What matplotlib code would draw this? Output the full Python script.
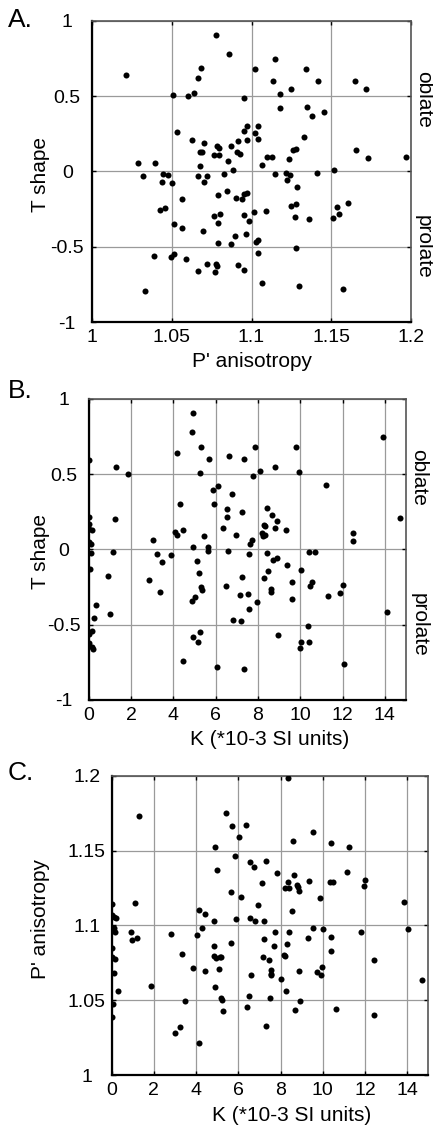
import matplotlib
matplotlib.use("Agg")
import matplotlib.pyplot as plt

plt.rcParams["font.family"] = ["Liberation Sans", "DejaVu Sans"]

# panel A: P' anisotropy vs T shape
a_p = [1.0212, 1.0777, 1.0859, 1.1148, 1.1022, 1.134, 1.0683, 1.0666, 1.1137, 1.142,
       1.165, 1.1717, 1.1248, 1.1181, 1.0639, 1.0601, 1.0505, 1.0955, 1.1181, 1.1347,
       1.138, 1.1458, 1.0972, 1.1043, 1.0953, 1.1020, 1.0534, 1.1043, 1.0970, 1.1330,
       1.0915, 1.0628, 1.0699, 1.0783, 1.0794, 1.0869, 1.1261, 1.1280, 1.1657, 1.0679,
       1.0689, 1.0911, 1.0928, 1.0762, 1.0794, 1.1097, 1.1131, 1.1236, 1.1734, 1.1971,
       1.0285, 1.0396, 1.0854, 1.0679, 1.1066, 1.0882, 1.1518, 1.032, 1.0442, 1.0473,
       1.0666, 1.0718, 1.0827, 1.1148, 1.1215, 1.1242, 1.1414, 1.1220, 1.0704, 1.0436,
       1.0503, 1.1286, 1.0844, 1.0974, 1.0951, 1.0790, 1.0942, 1.0905, 1.0561, 1.128,
       1.125, 1.1606, 1.1539, 1.0427, 1.0457, 1.1016, 1.1091, 1.0804, 1.0766, 1.0955,
       1.1552, 1.1273, 1.1359, 1.1512, 1.0982, 1.0790, 1.0511, 1.0561, 1.0696, 1.0968,
       1.0898, 1.1043, 1.1026, 1.0790, 1.0871, 1.128, 1.1043, 1.0390, 1.0511, 1.0496,
       1.0591, 1.0722, 1.0777, 1.0783, 1.0915, 1.0666, 1.0773, 1.0953, 1.1064, 1.1296,
       1.1577, 1.0329]
a_t = [0.637, 0.907, 0.777, 0.748, 0.677, 0.677, 0.684, 0.619, 0.597, 0.602,
       0.602, 0.544, 0.544, 0.513, 0.520, 0.502, 0.509, 0.485, 0.420, 0.427,
       0.369, 0.392, 0.303, 0.303, 0.268, 0.252, 0.263, 0.217, 0.210, 0.228,
       0.199, 0.206, 0.186, 0.170, 0.155, 0.166, 0.139, 0.146, 0.139, 0.128,
       0.128, 0.128, 0.115, 0.106, 0.106, 0.095, 0.095, 0.082, 0.088, 0.095,
       0.058, 0.058, 0.066, 0.038, 0.044, 0.011, 0.011, -0.029, -0.018, -0.022,
       -0.029, -0.033, -0.018, -0.015, -0.009, -0.022, -0.011, -0.060, -0.073, -0.069,
       -0.080, -0.106, -0.128, -0.142, -0.150, -0.157, -0.181, -0.179, -0.186, -0.215,
       -0.232, -0.212, -0.239, -0.257, -0.246, -0.272, -0.263, -0.285, -0.296, -0.292,
       -0.285, -0.303, -0.314, -0.308, -0.332, -0.345, -0.352, -0.374, -0.396, -0.416,
       -0.431, -0.456, -0.471, -0.473, -0.480, -0.509, -0.544, -0.562, -0.549, -0.571,
       -0.582, -0.617, -0.613, -0.631, -0.622, -0.659, -0.666, -0.655, -0.743, -0.759,
       -0.783, -0.794]

# panel B: K vs T shape
b_k = [4.95, 4.87, 13.91, 5.33, 7.87, 9.78, 4.18, 6.62, 7.33, 5.71,
       0.0, 1.29, 8.83, 8.09, 9.92, 5.25, 1.88, 7.79, 11.2, 6.12,
       5.87, 6.78, 4.31, 5.91, 6.55, 8.41, 7.26, 6.55, 8.66, 0.03,
       1.23, 14.73, 8.91, 0.03, 8.28, 8.35, 0.0, 0.14, 6.37, 4.46,
       8.83, 9.32, 4.10, 4.18, 8.19, 8.35, 8.22, 12.48, 5.43, 6.96,
       7.74, 12.48, 3.04, 0.03, 0.13, 7.62, 4.92, 5.66, 5.66, 0.09,
       1.14, 6.59, 10.43, 10.68, 3.25, 3.88, 7.59, 8.42, 3.47, 5.14,
       8.72, 8.91, 9.38, 0.05, 10.05, 5.22, 8.47, 0.91, 7.24, 8.30,
       2.84, 9.61, 10.54, 12.0, 10.46, 6.47, 5.30, 5.35, 8.60, 8.64,
       3.39, 7.51, 7.16, 11.86, 11.29, 5.02, 4.89, 9.59, 7.97, 0.35,
       7.59, 14.09, 1.01, 0.24, 6.80, 7.22, 10.38, 0.16, 5.24, 0.0,
       8.96, 4.92, 5.17, 10.02, 10.43, 0.0, 0.17, 0.19, 9.97, 4.46,
       12.05, 6.06, 7.33]
b_t = [0.907, 0.777, 0.748, 0.677, 0.677, 0.681, 0.639, 0.619, 0.602, 0.602,
       0.595, 0.544, 0.544, 0.522, 0.515, 0.509, 0.502, 0.485, 0.427, 0.423,
       0.394, 0.369, 0.303, 0.303, 0.265, 0.272, 0.250, 0.217, 0.228, 0.215,
       0.199, 0.206, 0.186, 0.170, 0.159, 0.153, 0.137, 0.131, 0.142, 0.128,
       0.142, 0.128, 0.115, 0.097, 0.111, 0.097, 0.086, 0.108, 0.091, 0.095,
       0.064, 0.058, 0.060, 0.046, 0.035, 0.035, 0.013, 0.013, -0.013, -0.022,
       -0.015, -0.011, -0.018, -0.018, -0.031, -0.035, -0.029, -0.024, -0.082, -0.075,
       -0.071, -0.060, -0.104, -0.131, -0.139, -0.155, -0.146, -0.175, -0.181, -0.188,
       -0.204, -0.215, -0.217, -0.235, -0.241, -0.246, -0.252, -0.272, -0.261, -0.285,
       -0.285, -0.296, -0.303, -0.292, -0.310, -0.314, -0.341, -0.332, -0.347, -0.372,
       -0.396, -0.414, -0.431, -0.456, -0.471, -0.473, -0.507, -0.540, -0.546, -0.560,
       -0.571, -0.582, -0.613, -0.617, -0.617, -0.624, -0.650, -0.664, -0.657, -0.741,
       -0.759, -0.783, -0.794]

# panel C: K vs P' anisotropy
c_k = [8.33, 1.28, 5.40, 5.69, 6.35, 9.54, 6.02, 8.58, 10.41, 4.88,
       11.24, 5.84, 6.55, 7.29, 6.76, 4.98, 7.84, 11.17, 8.63, 9.34,
       12.02, 7.13, 8.33, 10.33, 10.50, 8.80, 11.97, 8.22, 8.41, 8.85,
       8.88, 5.65, 6.11, 9.89, 0.0, 1.12, 13.86, 6.91, 8.55, 4.14,
       4.44, 0.03, 5.89, 6.54, 0.13, 0.19, 4.85, 6.77, 7.23, 0.09,
       4.27, 9.54, 10.0, 14.03, 0.16, 0.90, 7.73, 8.39, 11.83, 2.82,
       4.06, 1.18, 0.98, 7.23, 9.29, 10.38, 5.64, 4.85, 8.31, 7.69,
       0.03, 10.38, 3.34, 4.83, 4.93, 5.13, 5.20, 8.17, 8.22, 0.0,
       0.16, 7.18, 7.46, 12.41, 3.86, 5.09, 9.95, 4.44, 7.54, 8.88,
       9.75, 7.56, 0.11, 9.92, 6.60, 7.54, 8.03, 14.71, 1.87, 4.88,
       0.31, 8.25, 6.52, 5.17, 5.21, 7.48, 8.93, 3.45, 0.08, 6.43,
       5.28, 8.68, 10.63, 0.0, 12.41, 3.23, 7.29, 3.02, 4.14]
c_p = [1.1987, 1.1735, 1.1753, 1.1663, 1.1670, 1.1623, 1.1592, 1.1565, 1.1552, 1.1527,
       1.1523, 1.1465, 1.1425, 1.1429, 1.1394, 1.1369, 1.1353, 1.1358, 1.1340, 1.1300,
       1.1307, 1.1287, 1.1289, 1.1289, 1.1291, 1.1273, 1.1264, 1.1249, 1.1251, 1.1255,
       1.1229, 1.1222, 1.1193, 1.1186, 1.1146, 1.1150, 1.1155, 1.1137, 1.1099, 1.1104,
       1.1075, 1.1068, 1.1046, 1.1052, 1.1055, 1.1052, 1.1028, 1.1028, 1.1028, 1.0981,
       1.0981, 1.0986, 1.0977, 1.0977, 1.0959, 1.0959, 1.0957, 1.0959, 1.0957, 1.0941,
       1.0934, 1.0916, 1.0903, 1.0912, 1.0916, 1.0921, 1.0885, 1.0865, 1.0876, 1.0863,
       1.0852, 1.0827, 1.0812, 1.0796, 1.0780, 1.0792, 1.0789, 1.0800, 1.0796, 1.0789,
       1.0776, 1.0792, 1.0769, 1.0769, 1.0716, 1.0709, 1.0722, 1.0693, 1.0700, 1.0698,
       1.0687, 1.0676, 1.0680, 1.0667, 1.0667, 1.0667, 1.0644, 1.0633, 1.0598, 1.0591,
       1.0564, 1.0564, 1.0531, 1.0515, 1.0504, 1.0515, 1.0497, 1.0497, 1.0475, 1.0457,
       1.0426, 1.0433, 1.0439, 1.0390, 1.0399, 1.0319, 1.0328, 1.0279, 1.0216]

t_ticks = [-1, -0.5, 0, 0.5, 1]
t_labels = ["-1", "-0.5", "0", "0.5", "1"]
p_ticks = [1, 1.05, 1.1, 1.15, 1.2]
p_labels = ["1", "1.05", "1.1", "1.15", "1.2"]
k_ticks = [0, 2, 4, 6, 8, 10, 12, 14]

TICK_FS = 14
LABEL_FS = 15
DOT = 19
W, H = 433, 1126
fig = plt.figure(figsize=(W / 100, H / 100), dpi=100)


def box(l, t, r, b):
    return [l / W, 1 - b / H, (r - l) / W, (b - t) / H]


def style(ax):
    ax.grid(True, color="#9a9a9a", linewidth=0.9)
    ax.set_axisbelow(True)
    for s in ["left", "bottom"]:
        ax.spines[s].set_color("black")
        ax.spines[s].set_linewidth(1.6)
    for s in ["top", "right"]:
        ax.spines[s].set_color("#555555")
        ax.spines[s].set_linewidth(1.2)
    ax.tick_params(direction="in", length=3, width=1, colors="black",
                   labelsize=TICK_FS, top=True, right=True)
    ax.tick_params(axis="x", pad=5)
    ax.tick_params(axis="y", pad=18)
    for lab in ax.get_yticklabels():
        lab.set_horizontalalignment("center")


def side_labels(ax):
    ax.text(1.04, 0.48, "oblate", rotation=270, fontsize=LABEL_FS, ha="center",
            va="center", transform=ax.get_yaxis_transform())
    ax.text(1.04, -0.5, "prolate", rotation=270, fontsize=LABEL_FS, ha="center",
            va="center", transform=ax.get_yaxis_transform())


# A
ax1 = fig.add_axes(box(92.3, 20.7, 410.7, 322))
ax1.scatter(a_p, a_t, s=DOT, color="black", linewidths=0, zorder=3)
ax1.set_xlim(1, 1.2)
ax1.set_ylim(-1, 1)
ax1.set_xticks(p_ticks, p_labels)
ax1.set_yticks(t_ticks, t_labels)
style(ax1)
ax1.set_xlabel("P' anisotropy", fontsize=LABEL_FS)
ax1.set_ylabel("T shape", fontsize=LABEL_FS)
ax1.xaxis.set_label_coords(0.5, -0.1)
ax1.yaxis.set_label_coords(-0.133, 0.488)
side_labels(ax1)

# B
ax2 = fig.add_axes(box(88.7, 398.7, 406, 700))
ax2.scatter(b_k, b_t, s=DOT, color="black", linewidths=0, zorder=3)
ax2.set_xlim(0, 15)
ax2.set_ylim(-1, 1)
ax2.set_xticks(k_ticks)
ax2.set_yticks(t_ticks, t_labels)
style(ax2)
ax2.set_xlabel("K (*10-3 SI units)", fontsize=LABEL_FS)
ax2.set_ylabel("T shape", fontsize=LABEL_FS)
ax2.xaxis.set_label_coords(0.571, -0.1)
ax2.yaxis.set_label_coords(-0.122, 0.492)
side_labels(ax2)

# C
ax3 = fig.add_axes(box(111.7, 776, 428.3, 1075))
ax3.scatter(c_k, c_p, s=DOT, color="black", linewidths=0, zorder=3)
ax3.set_xlim(0, 15)
ax3.set_ylim(1, 1.2)
ax3.set_xticks(k_ticks)
ax3.set_yticks(p_ticks, p_labels)
style(ax3)
ax3.set_xlabel("K (*10-3 SI units)", fontsize=LABEL_FS)
ax3.set_ylabel("P' anisotropy", fontsize=LABEL_FS)
ax3.xaxis.set_label_coords(0.568, -0.105)
ax3.yaxis.set_label_coords(-0.195, 0.523)

for lbl, y in [("A.", 20), ("B.", 391), ("C.", 773)]:
    fig.text(8 / W, 1 - y / H, lbl, fontsize=19, ha="left", va="center")

fig.savefig("out.png", dpi=100)
